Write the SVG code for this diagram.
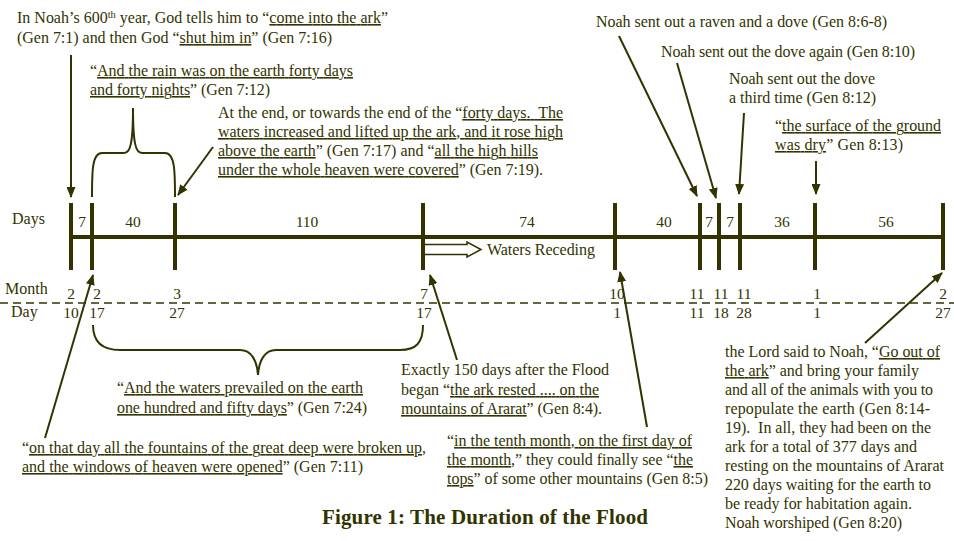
<svg xmlns="http://www.w3.org/2000/svg" width="954" height="541" viewBox="0 0 954 541">
<defs>
<style>
text{font-family:"Liberation Serif","Times New Roman",serif;font-size:16px;fill:#333300}
.u{text-decoration:underline}
.c{text-anchor:middle;font-size:15.5px}
.ar{stroke:#333300;stroke-width:2;fill:none;marker-end:url(#ah)}
.br{stroke:#333300;stroke-width:2;fill:none}
.tk{stroke:#333300;stroke-width:4}
.title{font-weight:bold;font-size:21px}
</style>
<marker id="ah" markerUnits="userSpaceOnUse" markerWidth="11" markerHeight="9" refX="10" refY="4.5" orient="auto">
<path d="M0,0 L11,4.5 L0,9 z" fill="#333300"/>
</marker>
</defs>
<rect width="954" height="541" fill="#ffffff"/>

<g id="timeline">
<line x1="71" y1="237" x2="943" y2="237" class="tk"/>
<line x1="71" y1="203" x2="71" y2="270" class="tk"/>
<line x1="92" y1="203" x2="92" y2="270" class="tk"/>
<line x1="175" y1="203" x2="175" y2="270" class="tk"/>
<line x1="423" y1="203" x2="423" y2="270" class="tk"/>
<line x1="615" y1="203" x2="615" y2="270" class="tk"/>
<line x1="700" y1="203" x2="700" y2="270" class="tk"/>
<line x1="719" y1="203" x2="719" y2="270" class="tk"/>
<line x1="740" y1="203" x2="740" y2="270" class="tk"/>
<line x1="815" y1="203" x2="815" y2="270" class="tk"/>
<line x1="943" y1="203" x2="943" y2="270" class="tk"/>
<line x1="0" y1="303" x2="954" y2="303" stroke="#333300" stroke-width="1.3" stroke-dasharray="8,5"/>
<text x="12" y="224">Days</text>
<text x="5" y="294">Month</text>
<text x="11" y="317">Day</text>
<text x="82" y="227" class="c">7</text>
<text x="133" y="227" class="c">40</text>
<text x="307" y="227" class="c">110</text>
<text x="527" y="227" class="c">74</text>
<text x="664" y="227" class="c">40</text>
<text x="709" y="227" class="c">7</text>
<text x="730" y="227" class="c">7</text>
<text x="782" y="227" class="c">36</text>
<text x="886" y="227" class="c">56</text>
<text x="71" y="299" class="c">2</text>
<text x="97" y="299" class="c">2</text>
<text x="177" y="299" class="c">3</text>
<text x="424" y="299" class="c">7</text>
<text x="617" y="299" class="c">10</text>
<text x="697" y="299" class="c">11</text>
<text x="721" y="299" class="c">11</text>
<text x="744" y="299" class="c">11</text>
<text x="817" y="299" class="c">1</text>
<text x="943" y="299" class="c">2</text>
<text x="71" y="318" class="c">10</text>
<text x="97" y="318" class="c">17</text>
<text x="177" y="318" class="c">27</text>
<text x="424" y="318" class="c">17</text>
<text x="617" y="318" class="c">1</text>
<text x="697" y="318" class="c">11</text>
<text x="721" y="318" class="c">18</text>
<text x="744" y="318" class="c">28</text>
<text x="817" y="318" class="c">1</text>
<text x="943" y="318" class="c">27</text>
<path d="M425,244.5 L467,244.5 L467,242 L481,249.5 L467,257 L467,254.5 L425,254.5" fill="#ffffff" stroke="#333300" stroke-width="1.5"/>
<text x="487" y="255" textLength="108" lengthAdjust="spacing">Waters Receding</text>
</g>

<g id="connectors">
<line x1="71" y1="55" x2="71" y2="197" class="ar"/>
<line x1="213" y1="147" x2="178" y2="195" class="ar"/>
<line x1="619" y1="36" x2="697" y2="196" class="ar"/>
<line x1="677" y1="63" x2="716" y2="198" class="ar"/>
<line x1="744" y1="113" x2="739" y2="194" class="ar"/>
<line x1="816" y1="161" x2="816" y2="194" class="ar"/>
<line x1="45" y1="438" x2="93" y2="275" class="ar"/>
<line x1="457" y1="360" x2="430" y2="275" class="ar"/>
<line x1="647" y1="427" x2="620" y2="272" class="ar"/>
<line x1="865" y1="343" x2="942" y2="273" class="ar"/>
<path class="br" d="M92,197 C92,172 92,153 102,153 L124,153 C130,153 133,145 133,108 C133,145 136,153 142,153 L165,153 C175,153 175,172 175,197"/>
<path class="br" d="M93,325 C93,343 103,350 120,350 L240,350 C251,350 257,360 258,375 C259,360 265,350 276,350 L400,350 C416,350 423,343 423,325"/>
</g>

<g id="n-enter">
<text x="17" y="23" textLength="371" lengthAdjust="spacing">In Noah’s 600<tspan font-size="10.5" dy="-5">th</tspan><tspan dy="5"> year, God tells him to “</tspan><tspan class="u">come into the ark</tspan>”</text>
<text x="17" y="43" textLength="315" lengthAdjust="spacing">(Gen 7:1) and then God “<tspan class="u">shut him in</tspan>” (Gen 7:16)</text>
</g>

<g id="n-rain">
<text x="90" y="76" textLength="263" lengthAdjust="spacing">“<tspan class="u">And the rain was on the earth forty days</tspan></text>
<text x="90" y="95" textLength="180" lengthAdjust="spacing"><tspan class="u">and forty nights</tspan>” (Gen 7:12)</text>
</g>

<g id="n-increase">
<text x="218" y="118" textLength="345" lengthAdjust="spacing">At the end, or towards the end of the “<tspan class="u">forty days.&#160; The</tspan></text>
<text x="218" y="137" textLength="345" lengthAdjust="spacing" class="u">waters increased and lifted up the ark, and it rose high</text>
<text x="218" y="156" textLength="320" lengthAdjust="spacing"><tspan class="u">above the earth</tspan>” (Gen 7:17) and “<tspan class="u">all the high hills</tspan></text>
<text x="218" y="175" textLength="325" lengthAdjust="spacing"><tspan class="u">under the whole heaven were covered</tspan>” (Gen 7:19).</text>
</g>

<g id="n-raven">
<text x="596" y="27" textLength="291" lengthAdjust="spacing">Noah sent out a raven and a dove (Gen 8:6-8)</text>
</g>
<g id="n-dove2">
<text x="661" y="57" textLength="254" lengthAdjust="spacing">Noah sent out the dove again (Gen 8:10)</text>
</g>
<g id="n-dove3">
<text x="729" y="84" textLength="146" lengthAdjust="spacing">Noah sent out the dove</text>
<text x="729" y="103" textLength="147" lengthAdjust="spacing">a third time (Gen 8:12)</text>
</g>
<g id="n-dry">
<text x="775" y="131" textLength="166" lengthAdjust="spacing">“<tspan class="u">the surface of the ground</tspan></text>
<text x="775" y="150" textLength="128" lengthAdjust="spacing"><tspan class="u">was dry</tspan>” Gen 8:13)</text>
</g>

<g id="n-prevailed">
<text x="117" y="393" textLength="246" lengthAdjust="spacing">“<tspan class="u">And the waters prevailed on the earth</tspan></text>
<text x="117" y="413" textLength="250" lengthAdjust="spacing"><tspan class="u">one hundred and fifty days</tspan>” (Gen 7:24)</text>
</g>

<g id="n-fountains">
<text x="22" y="453" textLength="404" lengthAdjust="spacing">“<tspan class="u">on that day all the fountains of the great deep were broken up,</tspan></text>
<text x="22" y="472" textLength="341" lengthAdjust="spacing"><tspan class="u">and the windows of heaven were opened</tspan>” (Gen 7:11)</text>
</g>

<g id="n-rested">
<text x="401" y="375" textLength="208" lengthAdjust="spacing">Exactly 150 days after the Flood</text>
<text x="401" y="395" textLength="198" lengthAdjust="spacing">began “<tspan class="u">the ark rested .... on the</tspan></text>
<text x="401" y="414" textLength="201" lengthAdjust="spacing"><tspan class="u">mountains of Ararat</tspan>” (Gen 8:4).</text>
</g>

<g id="n-tops">
<text x="447" y="446" textLength="245" lengthAdjust="spacing">“<tspan class="u">in the tenth month, on the first day of</tspan></text>
<text x="447" y="465" textLength="246" lengthAdjust="spacing"><tspan class="u">the month</tspan>,” they could finally see “<tspan class="u">the</tspan></text>
<text x="447" y="484" textLength="261" lengthAdjust="spacing"><tspan class="u">tops</tspan>” of some other mountains (Gen 8:5)</text>
</g>

<g id="n-exit">
<text x="725" y="357" textLength="215" lengthAdjust="spacing">the Lord said to Noah, “<tspan class="u">Go out of</tspan></text>
<text x="725" y="376" textLength="194" lengthAdjust="spacing"><tspan class="u">the ark</tspan>” and bring your family</text>
<text x="725" y="395" textLength="208" lengthAdjust="spacing">and all of the animals with you to</text>
<text x="725" y="414" textLength="205" lengthAdjust="spacing">repopulate the earth (Gen 8:14-</text>
<text x="725" y="433" textLength="206" lengthAdjust="spacing">19).&#160; In all, they had been on the</text>
<text x="725" y="452" textLength="192" lengthAdjust="spacing">ark for a total of 377 days and</text>
<text x="725" y="471" textLength="219" lengthAdjust="spacing">resting on the mountains of Ararat</text>
<text x="725" y="490" textLength="206" lengthAdjust="spacing">220 days waiting for the earth to</text>
<text x="725" y="509" textLength="187" lengthAdjust="spacing">be ready for habitation again.</text>
<text x="725" y="528" textLength="177" lengthAdjust="spacing">Noah worshiped (Gen 8:20)</text>
</g>

<g id="title">
<text x="322" y="524" class="title" textLength="326" lengthAdjust="spacing">Figure 1: The Duration of the Flood</text>
</g>
</svg>
